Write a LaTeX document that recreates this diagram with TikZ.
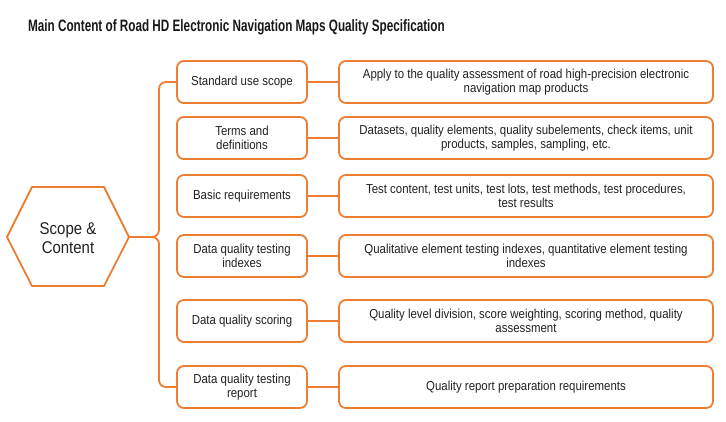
\documentclass[tikz,border=0pt]{standalone}
\usepackage{fontspec}
\setmainfont{Liberation Sans}[FakeStretch=0.88]
\newfontfamily\titlefont{Liberation Sans}[FakeStretch=0.71]
\definecolor{acc}{HTML}{ED7D31}
\definecolor{txt}{HTML}{222222}
\begin{document}
\begin{tikzpicture}[x=1pt,y=-1pt,
  conn/.style={draw=acc,line width=1.8pt},
  midbox/.style={draw=acc,line width=1.8pt,rounded corners=7pt,fill=white,
    minimum width=130pt,minimum height=42pt,align=center,inner sep=2pt,
    text=txt,font=\fontsize{13pt}{14pt}\selectfont},
  rbox/.style={midbox,minimum width=374pt},
  ttl/.style={font=\titlefont\bfseries\fontsize{16.5pt}{18pt}\selectfont,text=black!90,inner sep=0pt,anchor=base west}
  ]
\useasboundingbox (0,0) rectangle (726,422);
\fill[white] (0,0) rectangle (726,422);
\node[ttl] (title) at (28,32) {Main Content of Road HD Electronic Navigation Maps Quality Specification};

% hexagon
\draw[conn] (7,237) -- (32,187) -- (104,187) -- (129,237) -- (104,286) -- (32,286) -- cycle;
\coordinate (hexR) at (129,237);
\node[text=txt,align=center,font=\fontsize{17pt}{19pt}\selectfont] (hex) at (68,238) {Scope \&\\Content};

% middle boxes
\node[midbox] (b1) at (242,82) {Standard use scope};
\node[midbox] (b2) at (242,138) {Terms and\\definitions};
\node[midbox] (b3) at (242,196) {Basic requirements};
\node[midbox] (b4) at (242,256) {Data quality testing\\indexes};
\node[midbox] (b5) at (242,321) {Data quality scoring};
\node[midbox] (b6) at (242,387) {Data quality testing\\report};

% right boxes
\node[rbox] (r1) at (526,82) {Apply to the quality assessment of road high-precision electronic\\navigation map products};
\node[rbox] (r2) at (526,138) {Datasets, quality elements, quality subelements, check items, unit\\products, samples, sampling, etc.};
\node[rbox] (r3) at (526,196) {Test content, test units, test lots, test methods, test procedures,\\test results};
\node[rbox] (r4) at (526,256) {Qualitative element testing indexes, quantitative element testing\\indexes};
\node[rbox] (r5) at (526,321) {Quality level division, score weighting, scoring method, quality\\assessment};
\node[rbox] (r6) at (526,387) {Quality report preparation requirements};

\draw[conn] (b1.east) -- (r1.west);
\draw[conn] (b2.east) -- (r2.west);
\draw[conn] (b3.east) -- (r3.west);
\draw[conn] (b4.east) -- (r4.west);
\draw[conn] (b5.east) -- (r5.west);
\draw[conn] (b6.east) -- (r6.west);

% brace
\coordinate (brace) at (159,237);
\draw[conn,rounded corners=7pt] (b1.west) -| (brace) -- (hexR);
\draw[conn,rounded corners=7pt] (b6.west) -| (brace) -- (hexR);
\end{tikzpicture}
\end{document}
